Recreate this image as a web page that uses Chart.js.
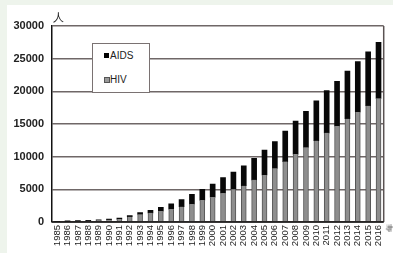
<!DOCTYPE html>
<html><head><meta charset="utf-8">
<script src="https://cdn.jsdelivr.net/npm/chart.js@4/dist/chart.umd.min.js"></script>
<style>
html,body{margin:0;padding:0;background:#eef4ec;}
#wrap{position:absolute;left:7px;top:5px;width:386px;height:248px;background:#fff;}
#c{position:absolute;left:0;top:0;}
.t{position:absolute;font-family:"Liberation Sans",Arial,sans-serif;color:#222;}
#legend{position:absolute;left:92px;top:43px;width:56px;height:48px;border:1px solid #7a7272;background:#fff;}
.sq{position:absolute;width:5px;height:5px;}
</style></head>
<body>
<div id="wrap"></div>
<canvas id="c" width="393" height="253"></canvas>
<div class="t" style="left:53px;top:10px;font-size:11px;">人</div>
<div id="legend"></div>
<div class="sq" style="left:104px;top:53px;background:#000;"></div>
<div class="t" style="left:110px;top:50px;font-size:10px;">AIDS</div>
<div class="sq" style="left:104px;top:77px;background:#999;border:1px solid #555;width:4px;height:4px;"></div>
<div class="t" style="left:110px;top:74px;font-size:10px;">HIV</div>
<div class="t" style="left:386px;top:222px;font-size:8px;transform:rotate(-90deg);">年</div>
<script>
const years = ["1985","1986","1987","1988","1989","1990","1991","1992","1993","1994","1995","1996","1997","1998","1999","2000","2001","2002","2003","2004","2005","2006","2007","2008","2009","2010","2011","2012","2013","2014","2015","2016"];
const hiv  = [80,120,170,200,250,350,450,800,1150,1400,1650,1950,2350,2750,3350,3800,4400,5000,5550,6450,7200,8200,9250,10400,11400,12450,13650,14700,15800,16850,17800,18900];
const aids = [40,40,60,70,80,110,150,200,300,400,600,850,1100,1500,1650,2000,2400,2650,3050,3300,3800,4100,4650,5050,5550,6100,6450,6850,7300,7700,8250,8600];
const yTicks = [0,5000,10000,15000,20000,25000,30000];

const rightBorder = {
  id:'rightBorder',
  afterDraw(chart){
    const a = chart.chartArea, ctx = chart.ctx;
    ctx.save();
    ctx.strokeStyle = '#5a5252'; ctx.lineWidth = 1.5;
    ctx.beginPath(); ctx.moveTo(a.right, a.top); ctx.lineTo(a.right, a.bottom); ctx.stroke();
    ctx.strokeStyle = '#111'; ctx.lineWidth = 1.5;
    ctx.beginPath(); ctx.moveTo(a.left, a.bottom); ctx.lineTo(a.right, a.bottom); ctx.stroke();
    ctx.restore();
  }
};

new Chart(document.getElementById('c'), {
  type:'bar',
  data:{
    labels: years,
    datasets:[
      {label:'HIV', data:hiv, backgroundColor:'#8e8e8e', borderColor:'#555', borderWidth:{left:1,right:1,top:0,bottom:0}, barThickness:5, borderSkipped:false},
      {label:'AIDS', data:aids, backgroundColor:'#080808', borderWidth:0, barThickness:5}
    ]
  },
  plugins:[rightBorder],
  options:{
    responsive:false, animation:false,
    layout:{padding:{top:26,right:5,left:0,bottom:0}},
    plugins:{legend:{display:false}, tooltip:{enabled:false}},
    scales:{
      x:{
        stacked:true,
        grid:{display:false, drawTicks:false},
        border:{display:false},
        ticks:{minRotation:90,maxRotation:90,autoSkip:false,padding:3,color:'#222',font:{family:'Liberation Sans',size:9.5}},
        afterFit(s){ s.height = 31; }
      },
      y:{
        stacked:true, min:0, max:30000,
        afterBuildTicks(s){ s.ticks = yTicks.map(v=>({value:v})); },
        grid:{color:'#6f6767', lineWidth:1.5, drawTicks:false},
        border:{display:true,color:'#111',width:1.5},
        ticks:{padding:8,color:'#222',font:{family:'Liberation Sans',size:11,weight:'bold'},callback:(v)=>String(v)},
        afterFit(s){ s.width = 52; }
      }
    }
  }
});
</script>
</body></html>
